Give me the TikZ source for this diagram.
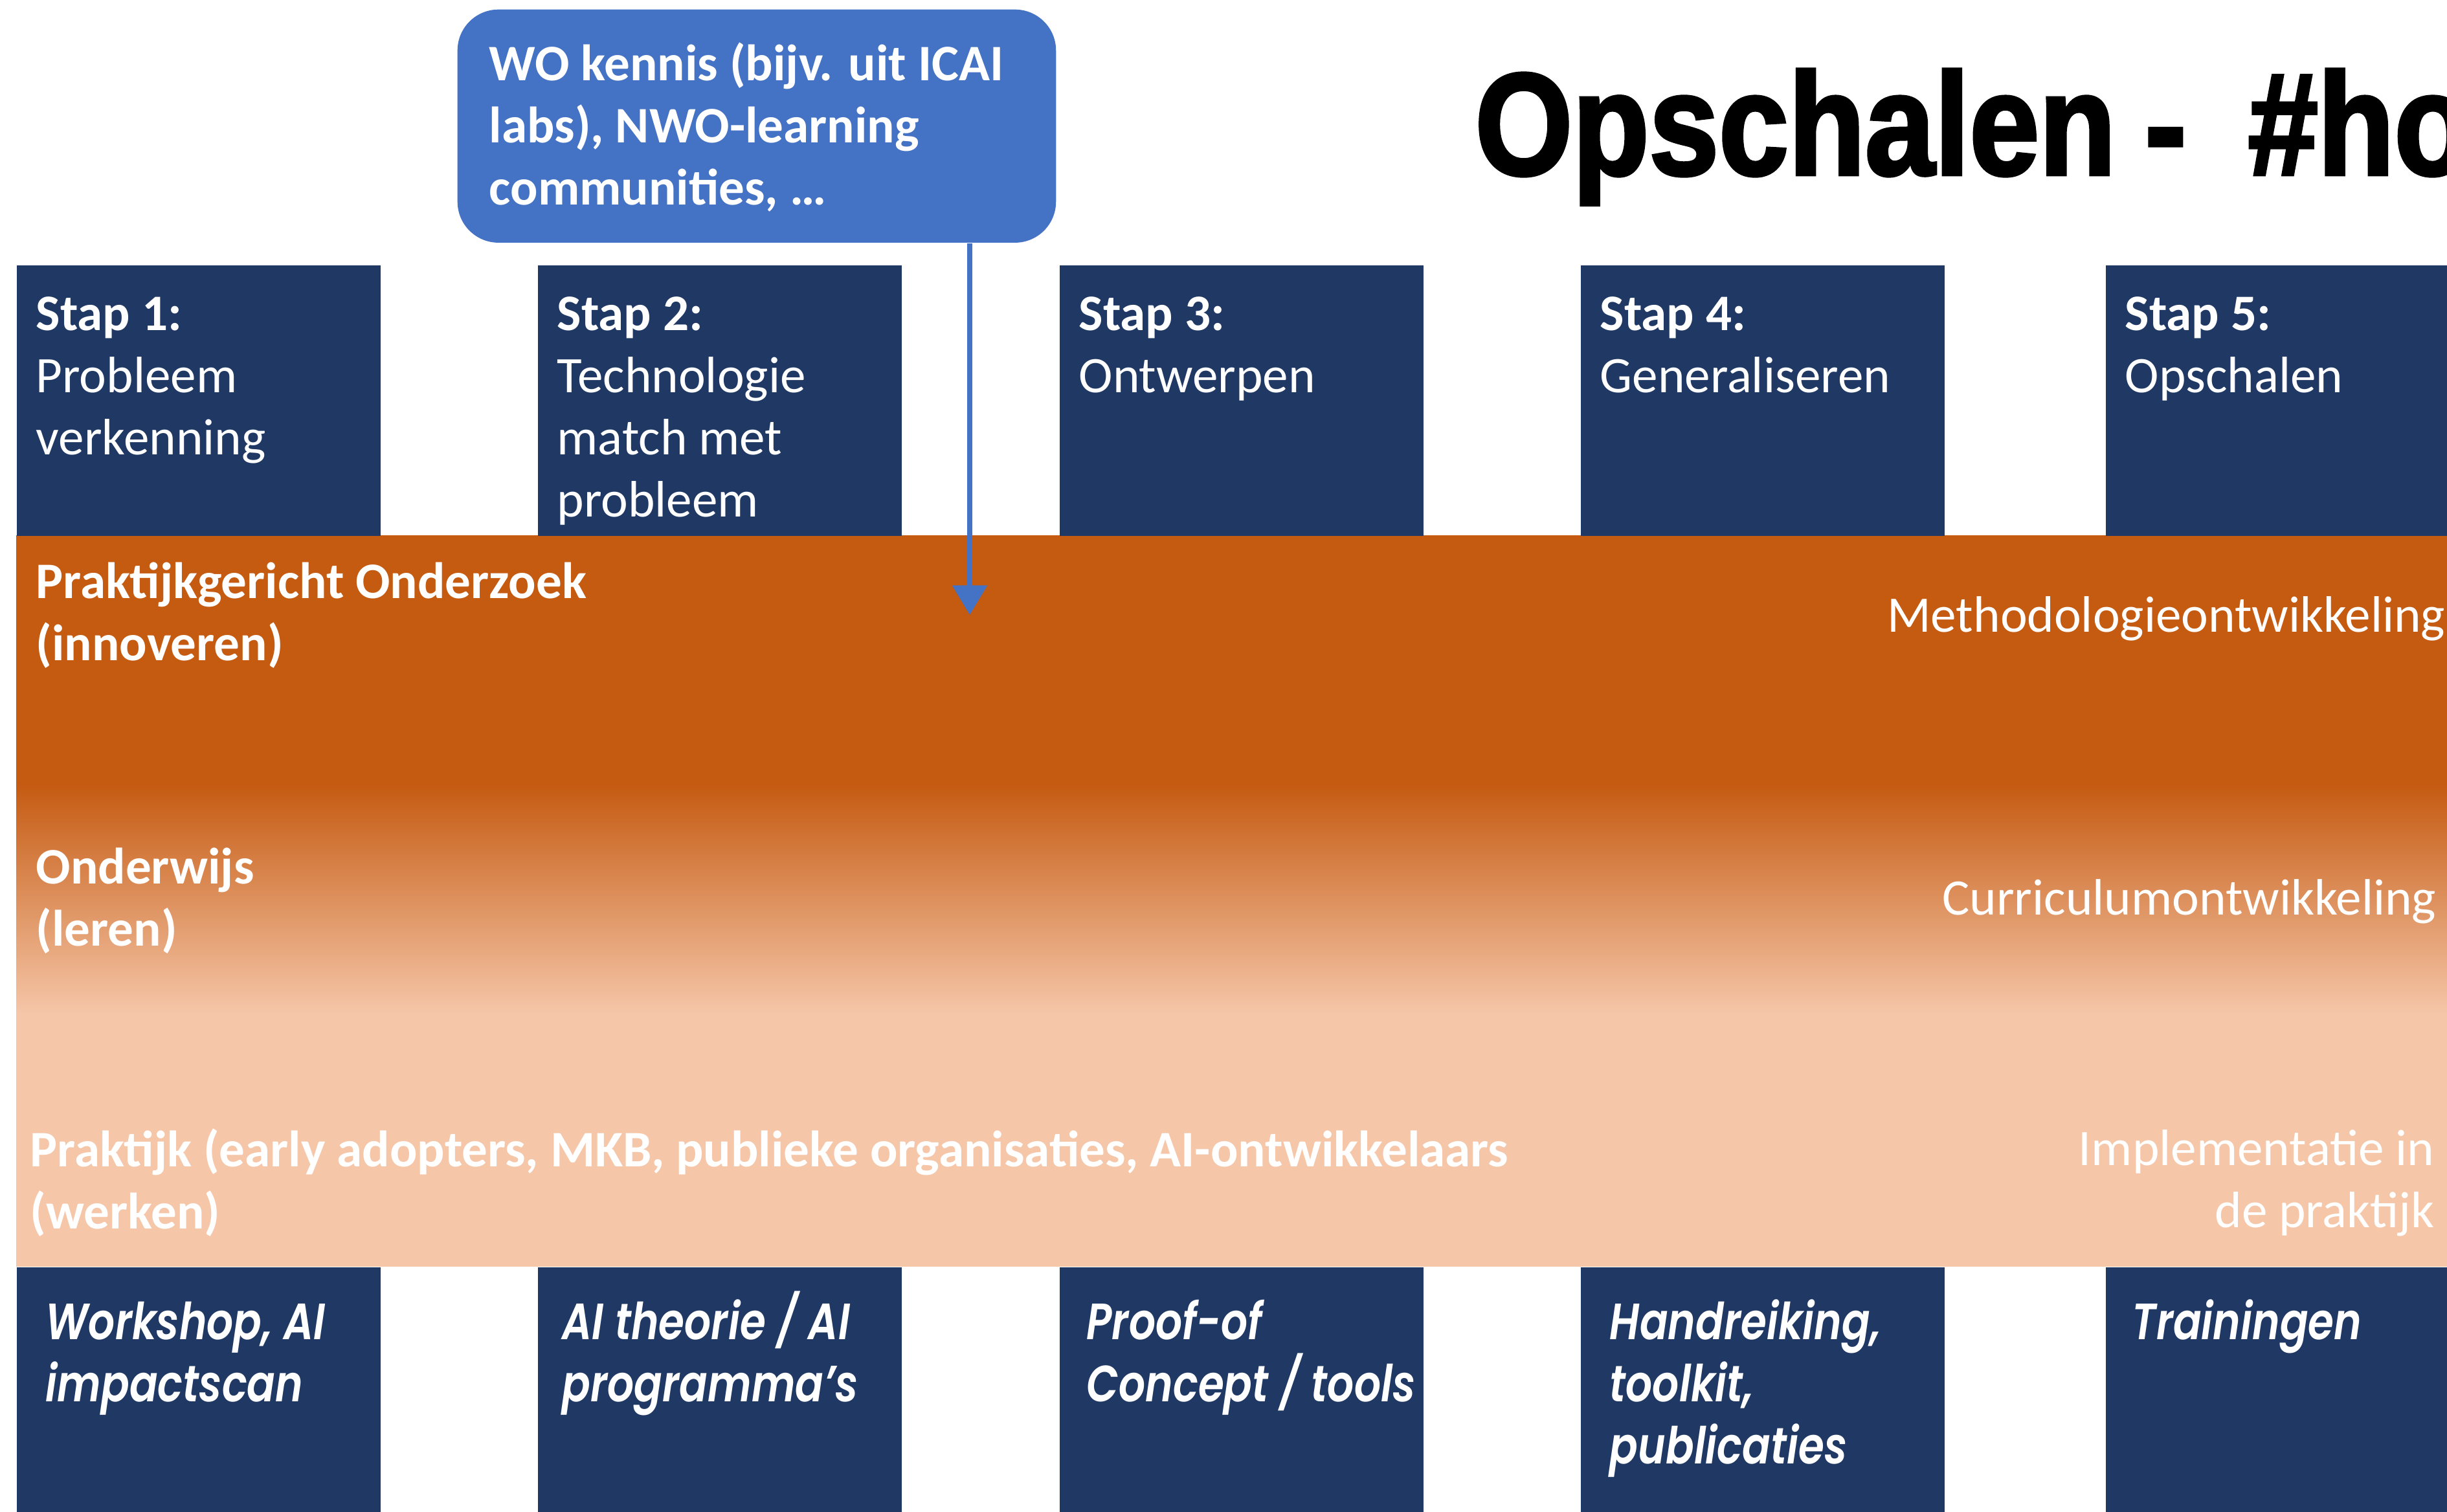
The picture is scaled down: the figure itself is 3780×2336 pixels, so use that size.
\documentclass[tikz,border=0pt]{standalone}
\usepackage{fontspec}
\setmainfont{Carlito}
\newfontfamily\titlefont[FakeStretch=0.86, FakeBold=2.2]{Liberation Sans}
\newfontfamily\popfont[FakeStretch=0.82, BoldFont={Poppins SemiBold}, BoldItalicFont={Poppins SemiBold Italic}]{Poppins}
\usetikzlibrary{arrows.meta}
\definecolor{navyc}{HTML}{203864}
\definecolor{orgdark}{HTML}{C55A11}
\definecolor{orglight}{HTML}{F5C6A8}
\definecolor{calloutc}{HTML}{4472C4}
\newcommand{\topfix}[1]{\rule{0pt}{#1}}
\begin{document}
\begin{tikzpicture}[x=0.01cm,y=-0.01cm,
 stepbox/.style={fill=navyc, draw=none, inner sep=0, anchor=north west, minimum width=5.62cm, minimum height=4.18cm},
 outbox/.style={fill=navyc, draw=none, inner sep=0, anchor=north west, minimum width=5.62cm, minimum height=4.0cm},
 boxtext/.style={text=white, anchor=north west, inner sep=0, align=left, font=\fontsize{22.5}{27.3}\selectfont},
 outtext/.style={text=white, anchor=north west, inner sep=0, align=left, font=\popfont\bfseries\itshape\fontsize{22.4}{27.3}\selectfont},
 bandleft/.style={text=white, anchor=north west, inner sep=0, align=left, font=\bfseries\fontsize{22.5}{27.3}\selectfont},
 bandright/.style={text=white, anchor=north east, inner sep=0, align=right, font=\fontsize{22.5}{27.3}\selectfont},
 callout/.style={fill=calloutc, draw=none, rounded corners=18pt, anchor=north west, minimum width=9.24cm, minimum height=3.60cm, inner sep=0},
 callouttext/.style={text=white, anchor=north west, inner sep=0, align=left, font=\bfseries\fontsize{22.5}{27.3}\selectfont},
 link/.style={calloutc, line width=2pt, -{Triangle[width=15pt,length=13pt]}}
]
\useasboundingbox (0,0) rectangle (3780,2336);
\clip (0,0) rectangle (3780,2336);
\fill[white] (0,0) rectangle (3780,2336);
% band
\fill[orgdark] (25,827) rectangle (3800,1212);
\shade[top color=orgdark, bottom color=orglight] (25,1210) rectangle (3800,1566);
\fill[orglight] (25,1564) rectangle (3800,1957);
% top step boxes
\node[stepbox] (s1) at (25,409) {};
\node[stepbox] (s2) at (830,409) {};
\node[stepbox] (s3) at (1636,409) {};
\node[stepbox] (s4) at (2441,409) {};
\node[stepbox] (s5) at (3252,409) {};
\node[boxtext] (t1) at (55,458) {\textbf{Stap 1:}\\Probleem\\verkenning};
\node[boxtext] (t2) at (860,458) {\textbf{Stap 2:}\\Technologie\\match met\\probleem};
\node[boxtext] (t3) at (1666,458) {\textbf{Stap 3:}\\Ontwerpen};
\node[boxtext] (t4) at (2471,458) {\textbf{Stap 4:}\\Generaliseren};
\node[boxtext] (t5) at (3282,458) {\textbf{Stap 5:}\\Opschalen};
% bottom output boxes
\node[outbox] (o1) at (25,1957) {};
\node[outbox] (o2) at (830,1957) {};
\node[outbox] (o3) at (1636,1957) {};
\node[outbox] (o4) at (2441,1957) {};
\node[outbox] (o5) at (3252,1957) {};
\node[outtext] (u1) at (70,1998) {\topfix{20pt}Workshop, AI\\impactscan};
\node[outtext] (u2) at (868,1994) {\topfix{20pt}AI theorie / AI\\programma’s};
\node[outtext] (u3) at (1678,1998) {\topfix{20pt}Proof-of\\Concept / tools};
\node[outtext] (u4) at (2486,1998) {\topfix{20pt}Handreiking,\\toolkit,\\publicaties};
\node[outtext] (u5) at (3293,1998) {\topfix{20pt}Trainingen};
% band labels
\node[bandleft] (r1) at (55,868) {Praktijkgericht Onderzoek\\(innoveren)};
\node[bandleft] (r2) at (55,1309) {Onderwijs\\(leren)};
\node[bandleft] (r3) at (46,1743) {Praktijk (early adopters, MKB, publieke organisaties, AI-ontwikkelaars\\(werken)};
\node[bandright] (m1) at (3778,921) {Methodologieontwikkeling};
\node[bandright] (m2) at (3764,1358) {Curriculumontwikkeling};
\node[bandright] (m3) at (3761,1745) {Implementatie in\\de praktijk};
% callout and arrow
\node[callout] (wo) at (706,14) {};
\node[callouttext] (wotext) at (755,60) {\topfix{18pt}WO kennis (bijv. uit ICAI\\labs), NWO-learning\\communities, …};
\coordinate (arrowend) at (1498,950);
\draw[link] (arrowend |- wo.south) -- (arrowend);
% title
\node[anchor=base west, inner sep=0, font=\titlefont\bfseries\fontsize{64}{70}\selectfont] (title) at (2278,270) {Opschalen\hspace{0.45cm}-\hspace{0.95cm}\#ho};
\end{tikzpicture}
\end{document}
